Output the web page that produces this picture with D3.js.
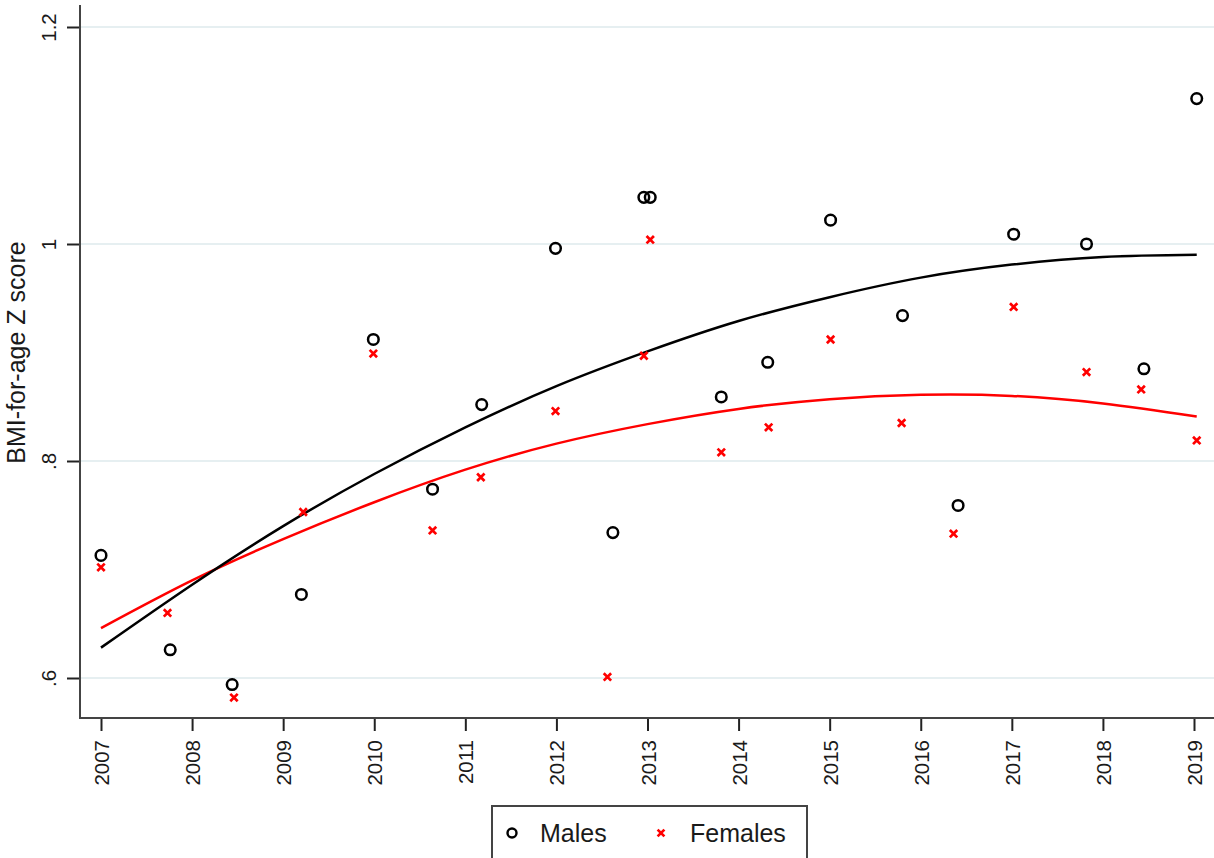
<!DOCTYPE html>
<html>
<head>
<meta charset="utf-8">
<script src="https://cdn.jsdelivr.net/npm/d3@7"></script>
<style>
  body { margin: 0; background: #fff; }
  svg { display: block; font-family: "Liberation Sans", Arial, sans-serif; }
</style>
</head>
<body>
<div id="chart"></div>
<script>
// --- data ---
const maleYears = [2007.0, 2007.76, 2008.44, 2009.2, 2009.99, 2010.64, 2011.18, 2011.99, 2012.62, 2012.96,
  2013.03, 2013.81, 2014.32, 2015.01, 2015.8, 2016.41, 2017.02, 2017.82, 2018.45, 2019.03];
const maleValues = [0.713, 0.626, 0.594, 0.677, 0.912, 0.774, 0.852, 0.996, 0.734, 1.043,
  1.043, 0.859, 0.891, 1.022, 0.934, 0.759, 1.009, 1.000, 0.885, 1.134];

const femaleYears = [2007.0, 2007.73, 2008.46, 2009.22, 2009.99, 2010.64, 2011.17, 2011.99, 2012.56, 2012.96,
  2013.03, 2013.81, 2014.33, 2015.01, 2015.79, 2016.36, 2017.02, 2017.82, 2018.42, 2019.03];
const femaleValues = [0.702, 0.660, 0.582, 0.753, 0.899, 0.736, 0.785, 0.846, 0.601, 0.897,
  1.004, 0.808, 0.831, 0.912, 0.835, 0.733, 0.942, 0.882, 0.866, 0.819];

// quadratic fit lines
const fitYears = [2007, 2008, 2009, 2010, 2011, 2012, 2013, 2014, 2015, 2016, 2017, 2018, 2019.03];
const maleFit = [0.628, 0.686, 0.740, 0.788, 0.831, 0.869, 0.901, 0.929, 0.951, 0.969, 0.981, 0.988, 0.990];
const femaleFit = [0.646, 0.690, 0.728, 0.762, 0.792, 0.816, 0.834, 0.848, 0.857, 0.861, 0.860, 0.853, 0.841];

const xTicks = d3.range(2007, 2020);
const yTicks = [0.6, 0.8, 1.0, 1.2];
const legendLabels = ['Males', 'Females'];

const width = 1214, height = 858;
const svg = d3.select('#chart').append('svg')
  .attr('width', width)
  .attr('height', height);

const x = d3.scaleLinear().domain([2007, 2019]).range([101, 1194]);
const y = d3.scaleLinear().domain([0.6, 1.2]).range([678, 27]);

const axisLeftX = 80, axisBottomY = 718;
const textColor = '#1a1a1a';

// gridlines
svg.append('g').selectAll('line')
  .data(yTicks)
  .enter().append('line')
  .attr('x1', axisLeftX + 1).attr('x2', width)
  .attr('y1', d => y(d)).attr('y2', d => y(d))
  .attr('stroke', '#e6eff1')
  .attr('stroke-width', 2);

// y axis
const yAxis = svg.append('g')
  .attr('transform', `translate(${axisLeftX},0)`)
  .call(d3.axisLeft(y).tickValues(yTicks).tickSize(13)
    .tickFormat(d => d === 1 ? '1' : String(+d.toFixed(1)).replace(/^0/, '')));
yAxis.select('.domain').remove();
yAxis.selectAll('.tick line').attr('stroke', '#222').attr('stroke-width', 2);
yAxis.selectAll('.tick text')
  .attr('x', null).attr('dy', null)
  .attr('transform', 'translate(-24,0) rotate(-90)')
  .attr('text-anchor', 'middle')
  .attr('font-size', 20.5)
  .attr('fill', textColor);
svg.append('line')
  .attr('x1', axisLeftX).attr('x2', axisLeftX)
  .attr('y1', 5).attr('y2', axisBottomY + 1)
  .attr('stroke', '#444').attr('stroke-width', 2);

// x axis
const xAxis = svg.append('g')
  .attr('transform', `translate(0,${axisBottomY})`)
  .call(d3.axisBottom(x).tickValues(xTicks).tickSize(13).tickFormat(d3.format('d')));
xAxis.select('.domain').remove();
xAxis.selectAll('.tick line').attr('stroke', '#222').attr('stroke-width', 2);
xAxis.selectAll('.tick text')
  .attr('y', null).attr('dy', null)
  .attr('transform', 'translate(7.5,22) rotate(-90)')
  .attr('text-anchor', 'end')
  .attr('font-size', 20.5)
  .attr('fill', textColor);
svg.append('line')
  .attr('x1', axisLeftX - 1).attr('x2', width)
  .attr('y1', axisBottomY).attr('y2', axisBottomY)
  .attr('stroke', '#444').attr('stroke-width', 2);

// axis title
svg.append('text')
  .attr('transform', `translate(25,${y(0.9)}) rotate(-90)`)
  .attr('text-anchor', 'middle')
  .attr('font-size', 25)
  .attr('fill', textColor)
  .text('BMI-for-age Z score');

// fit lines
const line = d3.line()
  .x(d => x(d[0]))
  .y(d => y(d[1]))
  .curve(d3.curveNatural);

svg.append('path')
  .datum(d3.zip(fitYears, femaleFit))
  .attr('d', line)
  .attr('fill', 'none')
  .attr('stroke', '#ff0000')
  .attr('stroke-width', 2.5);

svg.append('path')
  .datum(d3.zip(fitYears, maleFit))
  .attr('d', line)
  .attr('fill', 'none')
  .attr('stroke', '#000')
  .attr('stroke-width', 2.5);

// female markers (x)
const cross = (sel, s) => sel.append('path')
  .attr('d', `M${-s},${-s}L${s},${s}M${-s},${s}L${s},${-s}`)
  .attr('stroke', '#ff0000')
  .attr('stroke-width', 2.7)
  .attr('fill', 'none');

svg.append('g').selectAll('g')
  .data(d3.zip(femaleYears, femaleValues))
  .enter().append('g')
  .attr('transform', d => `translate(${x(d[0])},${y(d[1])})`)
  .call(g => cross(g, 3.7));

// male markers (o)
svg.append('g').selectAll('circle')
  .data(d3.zip(maleYears, maleValues))
  .enter().append('circle')
  .attr('cx', d => x(d[0]))
  .attr('cy', d => y(d[1]))
  .attr('r', 5.3)
  .attr('fill', 'none')
  .attr('stroke', '#000')
  .attr('stroke-width', 2.5);

// legend
const legend = svg.append('g');
legend.append('rect')
  .attr('x', 492).attr('y', 806)
  .attr('width', 315).attr('height', 70)
  .attr('fill', '#fff')
  .attr('stroke', '#444')
  .attr('stroke-width', 2);
legend.append('circle')
  .attr('cx', 512).attr('cy', 833).attr('r', 4.5)
  .attr('fill', 'none').attr('stroke', '#000').attr('stroke-width', 2.4);
legend.append('g')
  .attr('transform', 'translate(661,833)')
  .call(g => cross(g, 3.4));
legend.selectAll('text')
  .data(legendLabels)
  .enter().append('text')
  .attr('x', (d, i) => i === 0 ? 540 : 690)
  .attr('y', 842)
  .attr('font-size', 25)
  .attr('fill', textColor)
  .text(d => d);
</script>
</body>
</html>
